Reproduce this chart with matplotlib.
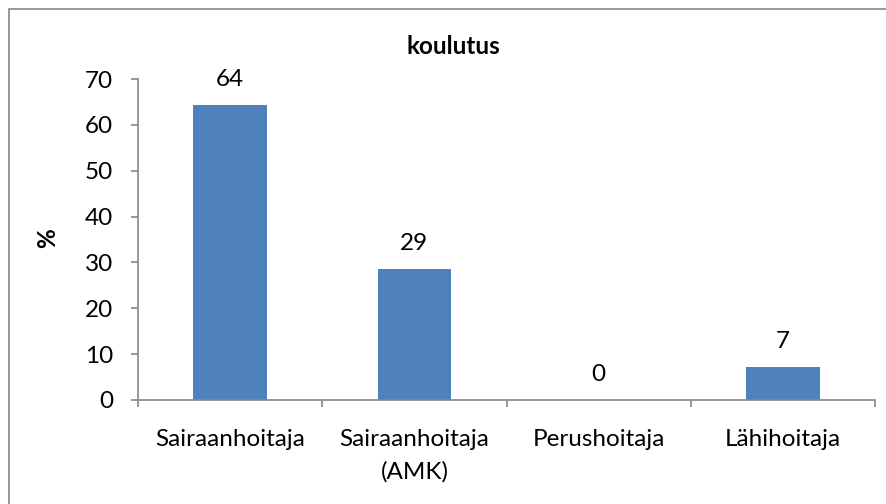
import matplotlib
matplotlib.use("Agg")
import matplotlib.pyplot as plt
from matplotlib.patches import Rectangle

categories = ["Sairaanhoitaja", "Sairaanhoitaja\n(AMK)", "Perushoitaja", "Lähihoitaja"]
values = [64.3, 28.6, 0.0, 7.1]
labels = ["64", "29", "0", "7"]
yticks = [0, 10, 20, 30, 40, 50, 60, 70]

plt.rcParams['font.family'] = ['Lato', 'DejaVu Sans']
W, H = 886, 504
fig = plt.figure(figsize=(W/100, H/100), dpi=100)
ax = fig.add_axes([138/W, 1-400/H, (875-138)/W, (400-79)/H])

grey = '#868686'
x = list(range(len(categories)))
bars = ax.bar(x, values, width=0.4, color='#4F81BD')
for xi, v, lab in zip(x, values, labels):
    ax.annotate(lab, (xi, v), xytext=(0, 11), textcoords='offset points',
                ha='center', va='bottom', fontsize=17.5, color='black')

ax.set_xlim(-0.5, len(categories)-0.5)
ax.set_ylim(0, 70)
ax.set_yticks(yticks)
ax.set_yticklabels([str(t) for t in yticks], fontsize=17.5)
ax.set_xticks([i - 0.5 for i in range(len(categories)+1)], minor=False)
ax.set_xticklabels([])
ax.set_xticks(x, minor=True)
ax.set_xticklabels(categories, minor=True, fontsize=17.5, linespacing=1.6)
ax.tick_params(axis='x', which='minor', length=0, pad=21)
ax.tick_params(axis='x', which='major', length=5, color=grey, width=1.2)
ax.tick_params(axis='y', length=5, color=grey, width=1.2, pad=13)
for s in ['top', 'right']:
    ax.spines[s].set_visible(False)
for s in ['left', 'bottom']:
    ax.spines[s].set_color(grey)
    ax.spines[s].set_linewidth(1.2)

fig.text(48/W, 1-238/H, '%', rotation=90, ha='center', va='center',
         fontsize=17.5, fontweight='bold')
fig.text(453/W, 1-47/H, 'koulutus', ha='center', va='center', fontsize=17.5, fontweight='bold')

fig.patches.append(Rectangle((9/W, -0.1), 2, 1-9/H+0.1, transform=fig.transFigure,
                             fill=False, edgecolor='#868686', linewidth=1.2))

fig.savefig('out.png', dpi=100)
